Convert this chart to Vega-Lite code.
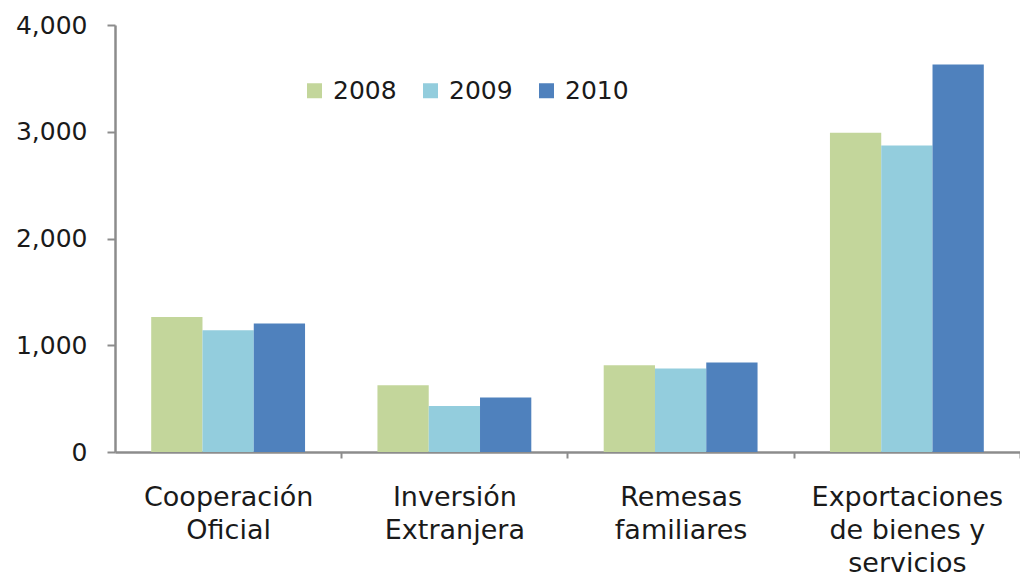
{
  "$schema": "https://vega.github.io/schema/vega-lite/v6.json",
  "autosize": "none",
  "width": 905,
  "height": 427,
  "padding": {"left": 115, "top": 25, "right": 0, "bottom": 121},
  "background": "white",
  "data": {
    "values": [
      {"categoria": "Cooperación Oficial", "anio": "2008", "valor": 1265},
      {"categoria": "Cooperación Oficial", "anio": "2009", "valor": 1140},
      {"categoria": "Cooperación Oficial", "anio": "2010", "valor": 1203},
      {"categoria": "Inversión Extranjera", "anio": "2008", "valor": 625},
      {"categoria": "Inversión Extranjera", "anio": "2009", "valor": 431},
      {"categoria": "Inversión Extranjera", "anio": "2010", "valor": 510},
      {"categoria": "Remesas familiares", "anio": "2008", "valor": 812},
      {"categoria": "Remesas familiares", "anio": "2009", "valor": 782},
      {"categoria": "Remesas familiares", "anio": "2010", "valor": 838},
      {"categoria": "Exportaciones de bienes y servicios", "anio": "2008", "valor": 2990},
      {"categoria": "Exportaciones de bienes y servicios", "anio": "2009", "valor": 2871},
      {"categoria": "Exportaciones de bienes y servicios", "anio": "2010", "valor": 3631}
    ]
  },
  "mark": {"type": "bar"},
  "encoding": {
    "x": {
      "field": "categoria",
      "type": "nominal",
      "sort": null,
      "scale": {"paddingInner": 0.32, "paddingOuter": 0.16},
      "axis": {
        "title": null,
        "labelAngle": 0,
        "labelFont": "DejaVu Sans",
        "labelFontSize": 27,
        "labelColor": "#1a1a1a",
        "labelLineHeight": 33,
        "labelPadding": 26,
        "labelLimit": 0,
        "labelExpr": "datum.value == 'Cooperación Oficial' ? ['Cooperación', 'Oficial'] : datum.value == 'Inversión Extranjera' ? ['Inversión', 'Extranjera'] : datum.value == 'Remesas familiares' ? ['Remesas', 'familiares'] : datum.value == 'Exportaciones de bienes y servicios' ? ['Exportaciones', 'de bienes  y', 'servicios'] : ''",
        "tickOffset": 113,
        "labelOffset": -113,
        "tickSize": 6,
        "tickWidth": 2,
        "tickColor": "#8c8c8c",
        "domainColor": "#8c8c8c",
        "domainWidth": 2.5
      }
    },
    "xOffset": {
      "field": "anio",
      "type": "nominal",
      "sort": ["2008", "2009", "2010"],
      "scale": {"paddingInner": 0, "paddingOuter": 0}
    },
    "y": {
      "field": "valor",
      "type": "quantitative",
      "scale": {"domain": [0, 4000], "nice": false},
      "axis": {
        "title": null,
        "values": [0, 1000, 2000, 3000, 4000],
        "format": ",.0f",
        "grid": false,
        "labelFont": "DejaVu Sans",
        "labelFontSize": 25,
        "labelColor": "#1a1a1a",
        "labelPadding": 20,
        "tickSize": 8,
        "tickWidth": 2,
        "tickColor": "#8c8c8c",
        "domainColor": "#8c8c8c",
        "domainWidth": 2.5
      }
    },
    "color": {
      "field": "anio",
      "type": "nominal",
      "sort": ["2008", "2009", "2010"],
      "scale": {"domain": ["2008", "2009", "2010"], "range": ["#C3D69B", "#93CDDD", "#4F81BD"]},
      "legend": {
        "title": null,
        "orient": "none",
        "legendX": 187,
        "legendY": 53,
        "direction": "horizontal",
        "columns": 3,
        "padding": 0,
        "symbolType": "square",
        "symbolSize": 225,
        "symbolStrokeWidth": 0,
        "labelFont": "DejaVu Sans",
        "labelFontSize": 25,
        "labelColor": "#1a1a1a",
        "labelOffset": 6,
        "columnPadding": 21
      }
    }
  },
  "config": {
    "view": {"stroke": null}
  }
}
